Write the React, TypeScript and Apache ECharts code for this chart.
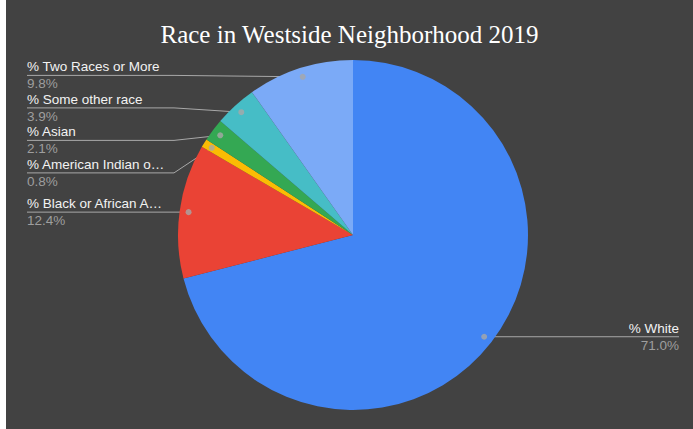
import React, { useEffect, useRef } from 'react';
import * as echarts from 'echarts';

const titleText = 'Race in Westside Neighborhood 2019';
const categories = [
  '% White',
  '% Black or African American',
  '% American Indian or Alaska Native',
  '% Asian',
  '% Some other race',
  '% Two Races or More',
];
const values = [71.0, 12.4, 0.8, 2.1, 3.9, 9.8];
const colors = ['#4285F4', '#EA4335', '#FBBC04', '#34A853', '#46BDC6', '#7BAAF7'];

const SANS = '"Liberation Sans", Arial, sans-serif';
const FONT_SIZE = 13.5;
const LINE_H = 17;
const LABEL_W = 141;

function truncate(text: string, maxW: number): string {
  const cv = document.createElement('canvas');
  const ctx = cv.getContext('2d');
  if (!ctx) return text;
  ctx.font = `${FONT_SIZE}px "Liberation Sans", Arial, sans-serif`;
  if (ctx.measureText(text).width <= maxW) return text;
  let s = text;
  while (s.length > 1 && ctx.measureText(s + '…').width > maxW) s = s.slice(0, -1);
  return s + '…';
}

export default function App() {
  const ref = useRef<HTMLDivElement>(null);

  useEffect(() => {
    if (!ref.current) return;
    const chart = echarts.init(ref.current, null, { renderer: 'svg' });

    const CX = 347;
    const CY = 235;
    const R = 175;
    const RL = 166;
    const BEND = 168;
    const H = 32.5;

    const total = values.reduce((a, b) => a + b, 0);
    const mids: number[] = [];
    let acc = 0;
    values.forEach((v) => {
      mids.push(((acc + v / 2) / total) * 100);
      acc += v;
    });

    // label vertical placement (weighted, non-overlapping)
    const thetas = mids.map((m) => (m / 100) * 2 * Math.PI);
    const dotX = thetas.map((t) => CX + RL * Math.sin(t));
    const dotY = thetas.map((t) => CY - RL * Math.cos(t));
    const labelY: number[] = values.map(() => 0);
    [true, false].forEach((left) => {
      const idx = values
        .map((_, i) => i)
        .filter((i) => (dotX[i] < CX) === left)
        .sort((a, b) => dotY[a] - dotY[b]);
      type Block = { items: number[]; start: number };
      const blocks: Block[] = [];
      const startOf = (items: number[]) => {
        let w = 0;
        let s = 0;
        items.forEach((it, k) => {
          w += values[it];
          s += values[it] * (dotY[it] - k * H);
        });
        return s / w;
      };
      idx.forEach((i) => {
        blocks.push({ items: [i], start: dotY[i] });
        while (blocks.length > 1) {
          const b = blocks[blocks.length - 1];
          const a = blocks[blocks.length - 2];
          if (a.start + a.items.length * H <= b.start) break;
          const items = a.items.concat(b.items);
          blocks.splice(blocks.length - 2, 2, { items, start: startOf(items) });
        }
      });
      blocks.forEach((b) => b.items.forEach((it, k) => (labelY[it] = b.start + k * H)));
    });

    const sliceData = categories.map((n, i) => ({
      name: n,
      value: values[i],
      itemStyle: { color: colors[i] },
    }));
    const labelData = categories.map((n, i) => ({
      name: n,
      value: values[i],
      itemStyle: { color: 'rgba(0,0,0,0)' },
    }));

    chart.setOption({
      animation: false,
      backgroundColor: '#424242',
      title: {
        text: titleText,
        left: 'center',
        top: 22,
        padding: 0,
        textStyle: {
          color: '#ffffff',
          fontFamily: '"Liberation Serif", "Times New Roman", serif',
          fontSize: 25,
          fontWeight: 'normal',
        },
      },
      polar: { center: [CX, CY], radius: R },
      angleAxis: { type: 'value', min: 0, max: 100, startAngle: 90, clockwise: true, show: false },
      radiusAxis: { type: 'value', min: 0, max: R, show: false },
      series: [
        {
          type: 'pie',
          center: [CX, CY],
          radius: R,
          startAngle: 90,
          clockwise: true,
          silent: true,
          data: sliceData,
          label: { show: false },
          labelLine: { show: false },
          itemStyle: { borderWidth: 0 },
        },
        {
          type: 'pie',
          left: 0,
          top: 0,
          width: 694,
          height: 429,
          center: [CX, CY],
          radius: RL,
          startAngle: 90,
          clockwise: true,
          silent: true,
          data: labelData,
          itemStyle: { borderWidth: 0 },
          label: {
            show: true,
            position: 'outer',
            alignTo: 'edge',
            edgeDistance: 21,
            width: LABEL_W,
            lineHeight: LINE_H,
            formatter: (p: any) =>
              `{n|${truncate(p.name, LABEL_W)}}\n{v|${Number(p.value).toFixed(1)}%}`,
            rich: {
              n: { fontSize: FONT_SIZE, color: '#f2f2f2', fontFamily: SANS, lineHeight: LINE_H },
              v: { fontSize: FONT_SIZE, color: '#9e9e9e', fontFamily: SANS, lineHeight: LINE_H },
            },
          },
          labelLine: {
            show: true,
            length: 0,
            length2: 4,
            lineStyle: { color: '#a8a8a8', width: 1 },
          },
          labelLayout: (params: any) => {
            const pts = params.labelLinePoints;
            const i = params.dataIndex;
            const r = params.labelRect;
            const y = labelY[i];
            if (!pts) return { y };
            const isLeft = r.x + r.width / 2 < CX;
            const p0 = pts[0];
            if (isLeft) {
              return { y, labelLinePoints: [p0, [Math.min(p0[0], BEND), y], [r.x, y]] };
            }
            return { y, labelLinePoints: [p0, [p0[0], y], [r.x + r.width, y]] };
          },
        },
        {
          type: 'scatter',
          coordinateSystem: 'polar',
          silent: true,
          symbol: 'circle',
          symbolSize: 6,
          itemStyle: { color: '#a8a8a8' },
          data: mids.map((m) => [RL, m]),
          z: 10,
        },
      ],
    });

    return () => {
      chart.dispose();
    };
  }, []);

  return (
    <div style={{ position: 'fixed', left: 0, top: 0, width: 693, height: 429, background: '#ffffff' }}>
      <div ref={ref} style={{ position: 'absolute', left: 6, top: 0, width: 687, height: 429 }} />
    </div>
  );
}
